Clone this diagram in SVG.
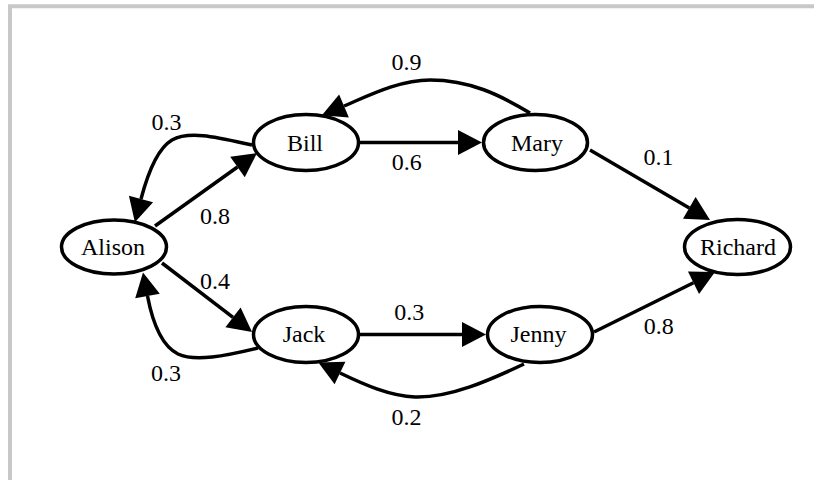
<svg xmlns="http://www.w3.org/2000/svg" width="814" height="480" viewBox="0 0 814 480">
<style>
.node ellipse{fill:#fff;stroke:#000;stroke-width:3.5}
.node text{font-family:"Liberation Serif",serif;font-size:24px;text-anchor:middle;fill:#000}
.edges path{fill:none;stroke:#000;stroke-width:3.5;marker-end:url(#arr)}
.lbl{font-family:"Liberation Serif",serif;font-size:24px;text-anchor:middle;fill:#000}
</style>
<defs>
<marker id="arr" markerUnits="userSpaceOnUse" markerWidth="26" markerHeight="26" refX="0" refY="12.5" orient="auto" overflow="visible">
<path d="M0,0 L24,12.5 L0,25 Z" fill="#000"/>
</marker>
</defs>
<rect width="814" height="480" fill="#fff"/>
<path d="M10,480 V6.3 H814" fill="none" stroke="#c8c8c8" stroke-width="4"/>
<g class="edges" id="connectors">
<path d="M155,226 L237.5,167"/>
<path d="M252,145 C220,138 190,130 172,140 C155,150 146,180 141,199"/>
<path d="M360,142.5 L458,142.5"/>
<path d="M530,113 C500,95 470,80 430,80 C400,80 370,95 344,106"/>
<path d="M590,150 L689.3,207.9"/>
<path d="M162,263 L233,317.4"/>
<path d="M258,348 C225,356 195,362 178,354 C160,345 151.5,317 147.5,296"/>
<path d="M360,334.5 L462,334.5"/>
<path d="M524,364 C490,380 450,398 415,397 C390,396 365,385 340,373"/>
<path d="M594,332 L693.5,282.7"/>
</g>
<g id="labels">
<text class="lbl" x="406.5" y="70">0.9</text>
<text class="lbl" x="166.5" y="129.5">0.3</text>
<text class="lbl" x="406.7" y="170">0.6</text>
<text class="lbl" x="658.5" y="165">0.1</text>
<text class="lbl" x="215" y="223.5">0.8</text>
<text class="lbl" x="215" y="288.5">0.4</text>
<text class="lbl" x="166" y="381">0.3</text>
<text class="lbl" x="409.3" y="319.5">0.3</text>
<text class="lbl" x="658.8" y="333.5">0.8</text>
<text class="lbl" x="406.5" y="425">0.2</text>
</g>
<g class="node" id="alison"><ellipse cx="114" cy="247" rx="52.5" ry="27"/><text x="113" y="255">Alison</text></g>
<g class="node" id="bill"><ellipse cx="306" cy="142.5" rx="52.5" ry="28"/><text x="305" y="151">Bill</text></g>
<g class="node" id="mary"><ellipse cx="535.5" cy="142.5" rx="52" ry="28"/><text x="537" y="151">Mary</text></g>
<g class="node" id="jack"><ellipse cx="306" cy="334.5" rx="52.5" ry="28"/><text x="304" y="342">Jack</text></g>
<g class="node" id="jenny"><ellipse cx="540" cy="334.5" rx="52.5" ry="28"/><text x="538.5" y="342">Jenny</text></g>
<g class="node" id="richard"><ellipse cx="737.5" cy="247" rx="53" ry="27.5"/><text x="738" y="255">Richard</text></g>
</svg>
